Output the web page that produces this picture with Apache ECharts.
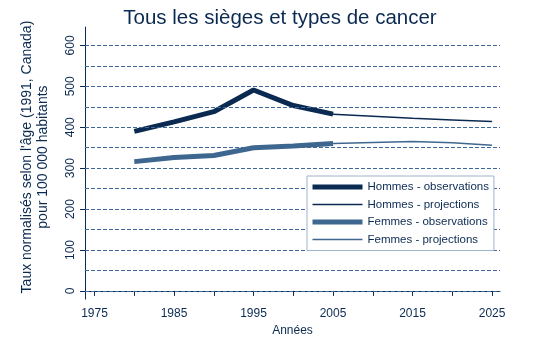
<!DOCTYPE html>
<html>
<head>
<meta charset="utf-8">
<script src="https://cdn.jsdelivr.net/npm/echarts@6/dist/echarts.min.js"></script>
<style>
  html, body { margin: 0; padding: 0; background: #fff; }
  #main { width: 560px; height: 342px; }
</style>
</head>
<body>
<div id="main"></div>
<script type="text/javascript">
  // valeurs
  var obsYears = [1980, 1985, 1990, 1995, 2000, 2005];
  var projYears = [2005, 2010, 2015, 2020, 2025];
  var hommesObs = [390, 413, 438, 491, 453, 432];
  var hommesProj = [432, 427, 422, 418, 414];
  var femmesObs = [316, 326, 331, 350, 354, 360];
  var femmesProj = [360, 363, 365, 362, 356];
  var xLabels = [1975, 1985, 1995, 2005, 2015, 2025];
  var xTicks = [1975, 1980, 1985, 1990, 1995, 2000, 2005, 2010, 2015, 2020, 2025];
  var yLabels = [0, 100, 200, 300, 400, 500, 600];
  var gridLevels = [0, 50, 100, 150, 200, 250, 300, 350, 400, 450, 500, 550, 600];

  var navy = '#0b2a52';
  var steel = '#3e6790';
  var font = 'Liberation Sans, Arial, sans-serif';

  function pairs(xs, ys) {
    return xs.map(function (x, i) { return [x, ys[i]]; });
  }

  var chart = echarts.init(document.getElementById('main'));

  var option = {
    animation: false,
    backgroundColor: '#fff',
    textStyle: { fontFamily: font },
    title: {
      text: 'Tous les sièges et types de cancer',
      left: 275, top: 3, textAlign: 'center',
      textStyle: { fontFamily: font, fontSize: 20.5, fontWeight: 'normal', color: navy }
    },
    grid: { left: 85, right: 60, top: 27, bottom: 42 },
    legend: {
      orient: 'vertical',
      left: 307, top: 176,
      z: 10,
      padding: [5, 5, 5, 3],
      itemGap: 5.5,
      itemWidth: 50, itemHeight: 14,
      backgroundColor: '#fff',
      borderColor: '#9fb3ca', borderWidth: 1,
      itemStyle: { opacity: 0 },
      textStyle: { fontFamily: font, fontSize: 11.5, color: navy },
      data: [
        { name: 'Hommes - observations', lineStyle: { width: 5 } },
        { name: 'Hommes - projections', lineStyle: { width: 1.5 } },
        { name: 'Femmes - observations', lineStyle: { width: 5 } },
        { name: 'Femmes - projections', lineStyle: { width: 1.5 } }
      ]
    },
    xAxis: {
      type: 'value',
      min: 1973.8, max: 2026,
      name: 'Années',
      nameLocation: 'middle',
      nameGap: 23,
      nameTextStyle: { fontFamily: font, fontSize: 12, color: navy },
      axisLine: { show: true, lineStyle: { color: navy, width: 1 } },
      axisTick: { show: true, length: 5, customValues: xTicks, lineStyle: { color: navy } },
      axisLabel: {
        customValues: xLabels, fontSize: 12, color: navy, margin: 9, fontFamily: font,
        formatter: function (v) { return String(v); }
      },
      splitLine: { show: false }
    },
    yAxis: {
      type: 'value',
      min: -20, max: 645,
      name: "Taux normalisés selon l'âge (1991, Canada)\npour 100 000 habitants",
      nameLocation: 'middle',
      nameGap: 34,
      nameTextStyle: { fontFamily: font, fontSize: 14, color: navy, lineHeight: 16, padding: [0, 0, 0, 12] },
      axisLine: { show: true, lineStyle: { color: navy, width: 1 } },
      axisTick: { show: true, length: 5, customValues: yLabels, lineStyle: { color: navy } },
      axisLabel: {
        customValues: yLabels, rotate: 90, fontSize: 12, color: navy, margin: 8, fontFamily: font,
        formatter: function (v) { return String(v); }
      },
      splitLine: { show: false }
    },
    series: [
      {
        name: 'grille',
        type: 'line',
        data: [],
        z: 1,
        silent: true,
        markLine: {
          silent: true,
          symbol: ['none', 'none'],
          label: { show: false },
          lineStyle: { color: '#3f6896', width: 1, type: [4, 2] },
          emphasis: { disabled: true },
          data: gridLevels.map(function (v) { return { yAxis: v }; })
        }
      },
      {
        name: 'Hommes - observations',
        type: 'line', z: 4,
        showSymbol: false, symbol: 'none',
        color: navy,
        lineStyle: { color: navy, width: 5 },
        data: pairs(obsYears, hommesObs)
      },
      {
        name: 'Hommes - projections',
        type: 'line', z: 3,
        showSymbol: false, symbol: 'none',
        color: navy,
        lineStyle: { color: navy, width: 1.5 },
        data: pairs(projYears, hommesProj)
      },
      {
        name: 'Femmes - observations',
        type: 'line', z: 4,
        showSymbol: false, symbol: 'none',
        color: steel,
        lineStyle: { color: steel, width: 5 },
        data: pairs(obsYears, femmesObs)
      },
      {
        name: 'Femmes - projections',
        type: 'line', z: 3,
        showSymbol: false, symbol: 'none',
        color: steel,
        lineStyle: { color: steel, width: 1.5 },
        data: pairs(projYears, femmesProj)
      }
    ]
  };

  chart.setOption(option);
</script>
</body>
</html>
